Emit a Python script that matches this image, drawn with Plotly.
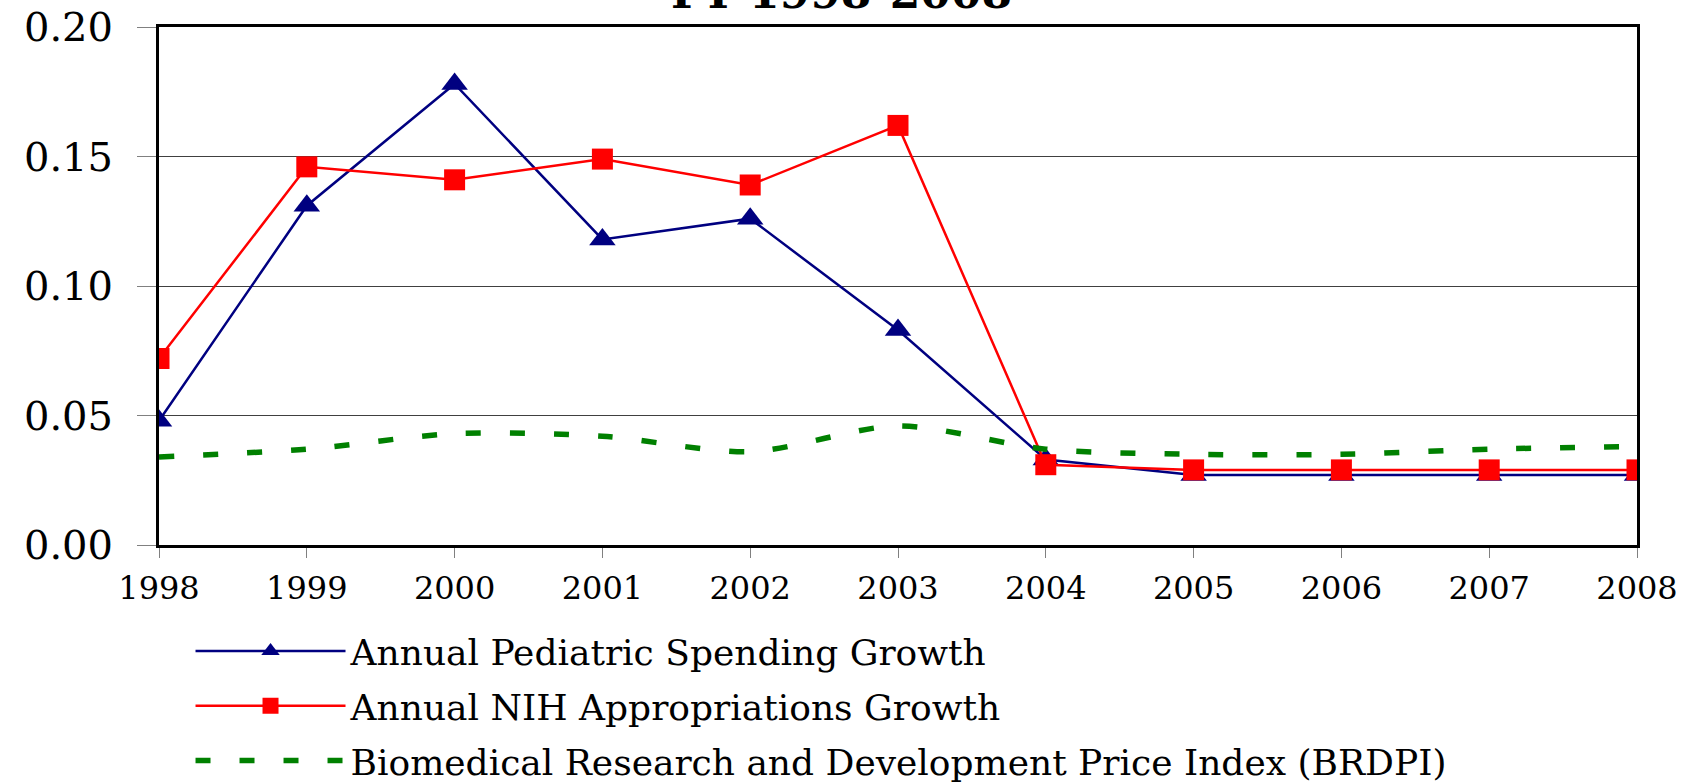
import plotly.graph_objects as go

years = [1998, 1999, 2000, 2001, 2002, 2003, 2004, 2005, 2006, 2007, 2008]
pediatric = [0.048, 0.131, 0.178, 0.118, 0.126, 0.083, 0.033, 0.027, 0.027, 0.027, 0.027]
nih = [0.072, 0.146, 0.141, 0.149, 0.139, 0.162, 0.031, 0.029, 0.029, 0.029, 0.029]
brdpi = [0.034, 0.037, 0.043, 0.042, 0.036, 0.046, 0.037, 0.035, 0.035, 0.037, 0.038]
y_ticks = [0.00, 0.05, 0.10, 0.15, 0.20]
y_ticklabels = ["0.00", "0.05", "0.10", "0.15", "0.20"]
title_text = "FY 1998-2008"

SERIF = "DejaVu Serif"

fig = go.Figure()
fig.add_trace(go.Scatter(
    x=years, y=pediatric, name="Annual Pediatric Spending Growth",
    mode="lines+markers", legendgroup="a",
    line=dict(color="#000080", width=2.5),
    marker=dict(symbol="triangle-up", size=23, color="#000080"),
))
fig.add_trace(go.Scatter(
    x=years, y=nih, name="Annual NIH Appropriations Growth",
    mode="lines+markers", legendgroup="b",
    line=dict(color="#FF0000", width=2.5),
    marker=dict(symbol="square", size=21, color="#FF0000"),
))
fig.add_trace(go.Scatter(
    x=years, y=brdpi, name="Biomedical Research and Development Price Index (BRDPI)",
    mode="lines", legendgroup="c",
    line=dict(color="#008000", width=5.5, dash="15px,29px", shape="spline", smoothing=0.8),
))

fig.update_layout(
    width=1686, height=783,
    margin=dict(l=159, r=49, t=27, b=238, autoexpand=False),
    paper_bgcolor="white", plot_bgcolor="white",
    font=dict(family=SERIF, color="black"),
    showlegend=True,
    legend=dict(
        xref="container", yref="container",
        x=0.113, y=1 - 621 / 783, xanchor="left", yanchor="top",
        itemwidth=150, traceorder="grouped", tracegroupgap=5,
        font=dict(family=SERIF, size=36, color="black"),
        bgcolor="rgba(0,0,0,0)",
    ),
    xaxis=dict(
        range=[1998, 2008], tickmode="array", tickvals=years,
        ticktext=[str(y) for y in years],
        showline=True, linecolor="black", linewidth=3, mirror=True,
        ticks="outside", ticklen=10, tickcolor="#808080", tickwidth=1,
        showgrid=False, zeroline=False, automargin=False,
        tickfont=dict(family=SERIF, size=32, color="black"),
        ticklabelstandoff=3,
    ),
    yaxis=dict(
        range=[0, 0.2], tickmode="array", tickvals=y_ticks, ticktext=y_ticklabels,
        showline=True, linecolor="black", linewidth=3, mirror=True,
        ticks="outside", ticklen=19, tickcolor="#808080", tickwidth=1,
        showgrid=True, gridcolor="#404040", gridwidth=1, zeroline=False, automargin=False,
        tickfont=dict(family=SERIF, size=40, color="black"),
        ticklabelstandoff=16,
    ),
    annotations=[dict(
        text="<b>" + title_text + "</b>", xref="paper", yref="paper",
        x=0.462, y=1, xanchor="center", yanchor="bottom", yshift=7,
        showarrow=False, font=dict(family=SERIF, size=44, color="black"),
    )],
)

fig.write_html(
    "out.html",
    config={"displayModeBar": False},
    post_script="document.body.style.margin='0px';document.body.style.padding='0px';",
)
